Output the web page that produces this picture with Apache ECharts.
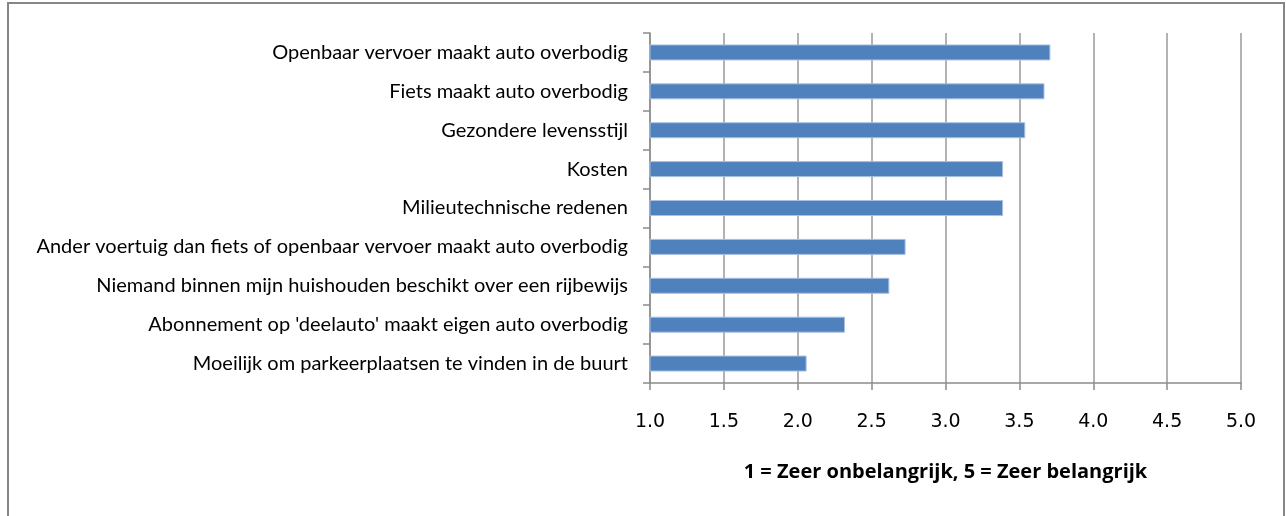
<!DOCTYPE html>
<html>
<head>
<meta charset="utf-8">
<script src="https://cdn.jsdelivr.net/npm/echarts@6/dist/echarts.min.js"></script>
<style>
html,body{margin:0;padding:0;background:#fff;}
#c{width:1286px;height:516px;}
</style>
</head>
<body>
<div id="c"></div>
<script>
const categories = [
  "Openbaar vervoer maakt auto overbodig",
  "Fiets maakt auto overbodig",
  "Gezondere levensstijl",
  "Kosten",
  "Milieutechnische redenen",
  "Ander voertuig dan fiets of openbaar vervoer maakt auto overbodig",
  "Niemand binnen mijn huishouden beschikt over een rijbewijs",
  "Abonnement op 'deelauto' maakt eigen auto overbodig",
  "Moeilijk om parkeerplaatsen te vinden in de buurt"
];
const values = [3.71, 3.67, 3.54, 3.39, 3.39, 2.73, 2.62, 2.32, 2.06];
const axisTitle = "1 = Zeer onbelangrijk, 5 = Zeer belangrijk";
const xMin = 1.0, xMax = 5.0, xStep = 0.5;

const chart = echarts.init(document.getElementById('c'), null, {renderer: 'canvas'});
chart.setOption({
  animation: false,
  backgroundColor: '#ffffff',
  graphic: [{
    type: 'rect',
    shape: {x: 8, y: 3, width: 1276, height: 530},
    style: {fill: 'none', stroke: '#868686', lineWidth: 2},
    silent: true, z: 100
  }],
  grid: {left: 650, right: 45, top: 33, bottom: 133, containLabel: false},
  xAxis: {
    type: 'value',
    min: xMin, max: xMax, interval: xStep,
    axisLine: {show: true, lineStyle: {color: '#8c8c8c', width: 1.5}},
    axisTick: {show: true, inside: false, length: 7, lineStyle: {color: '#8c8c8c', width: 1.5}},
    splitLine: {show: true, lineStyle: {color: '#999999', width: 1.5}},
    axisLabel: {
      margin: 30,
      color: '#000',
      fontFamily: 'DejaVu Sans',
      fontSize: 19,
      formatter: v => v.toFixed(1)
    },
    name: axisTitle,
    nameLocation: 'middle',
    nameGap: 79,
    nameTextStyle: {color: '#000', fontFamily: 'Open Sans', fontWeight: 'bold', fontSize: 20}
  },
  yAxis: {
    type: 'category',
    data: categories,
    inverse: true,
    axisLine: {show: true, lineStyle: {color: '#8c8c8c', width: 1.5}},
    axisTick: {show: true, inside: false, length: 7, alignWithLabel: false, lineStyle: {color: '#8c8c8c', width: 1.5}},
    splitLine: {show: false},
    axisLabel: {
      margin: 22,
      color: '#000',
      fontFamily: 'Lato',
      fontSize: 20
    }
  },
  series: [{
    type: 'bar',
    data: values,
    barWidth: 16,
    itemStyle: {color: '#4f81bd', borderColor: '#a9c0e0', borderWidth: 1}
  }]
});
</script>
</body>
</html>
